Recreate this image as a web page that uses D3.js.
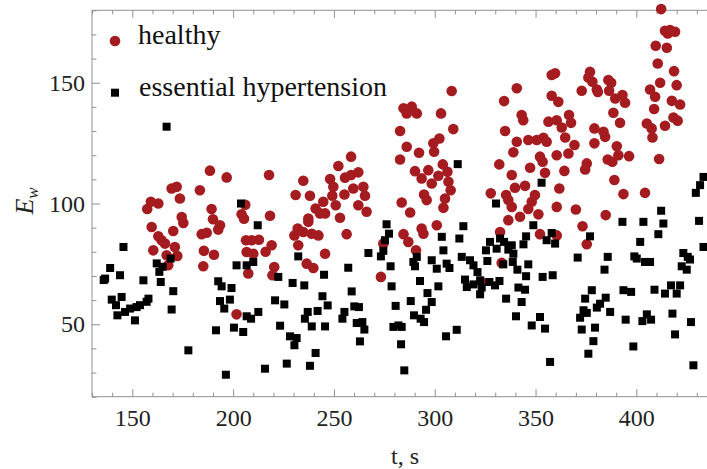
<!DOCTYPE html>
<html>
<head>
<meta charset="utf-8">
<script src="https://cdn.jsdelivr.net/npm/d3@7"></script>
<style>
  html, body { margin: 0; padding: 0; background: #fff; }
  svg { display: block; font-family: "Liberation Serif", "Times New Roman", serif; }
</style>
</head>
<body>
<div id="chart"></div>
<script>
// E_w vs t scatter: healthy vs essential hypertension

// --- data (t in s, E_w) ---
const healthy = [
  [157.4, 97.7], [159.2, 100.7], [162.9, 100.0], [169.5, 106.2], [172.0, 106.9], [173.6, 102.1],
  [183.5, 105.5], [188.5, 113.6], [196.8, 110.8], [189.3, 97.7], [174.5, 94.4], [175.3, 91.9],
  [190.0, 93.5], [193.5, 91.0], [192.6, 89.2], [204.2, 95.5], [205.4, 93.7], [159.6, 90.3],
  [162.9, 86.4], [164.5, 84.8], [166.2, 83.4], [170.3, 88.6], [171.1, 82.0], [160.4, 80.6],
  [167.0, 78.6], [167.8, 74.4], [172.3, 78.3], [184.4, 87.3], [186.9, 87.9], [185.5, 80.4],
  [190.5, 78.8], [185.2, 74.0], [206.4, 84.8], [206.7, 79.9], [207.5, 71.0], [201.7, 54.1],
  [206.0, 99.5], [217.8, 111.8], [234.8, 109.4], [231.0, 103.5], [238.1, 103.2], [252.2, 115.5],
  [258.5, 119.4], [248.1, 110.1], [255.5, 110.7], [258.5, 111.8], [262.1, 112.9], [249.7, 106.9],
  [249.2, 103.2], [255.2, 103.7], [259.6, 106.2], [264.6, 106.9], [265.4, 103.2], [244.7, 100.7],
  [240.9, 97.9], [250.9, 99.3], [262.1, 99.3], [266.2, 96.6], [243.1, 95.9], [245.6, 95.9],
  [253.0, 94.1], [237.3, 93.8], [218.3, 94.9], [209.2, 84.8], [212.8, 85.0], [210.0, 79.2],
  [216.1, 80.0], [219.1, 82.7], [220.4, 73.7], [219.5, 70.3], [230.4, 86.8], [232.0, 89.6],
  [234.8, 88.2], [237.3, 92.4], [239.0, 87.5], [242.3, 86.8], [232.3, 82.7], [236.5, 75.1],
  [239.8, 73.3], [245.6, 79.2], [256.3, 87.3], [273.3, 69.6], [274.5, 83.4],
  [284.5, 139.4], [286.1, 137.3], [288.6, 140.1], [291.1, 137.3], [308.4, 146.6], [303.1, 137.3],
  [282.8, 130.0], [309.2, 130.8], [286.1, 123.5], [292.2, 121.0], [299.3, 124.9], [302.3, 126.9],
  [299.7, 121.4], [282.8, 118.2], [290.2, 113.4], [296.8, 113.8], [293.5, 110.4], [298.5, 108.3],
  [301.8, 111.5], [304.0, 116.2], [306.3, 113.1], [306.8, 109.0], [307.9, 105.5], [294.7, 103.7],
  [296.0, 101.4], [305.1, 102.1], [304.3, 98.2], [283.6, 100.4], [287.8, 96.3], [284.5, 87.3],
  [286.9, 84.1], [290.7, 80.6], [293.5, 89.6], [294.4, 87.5], [301.0, 91.0],
  [340.7, 147.7], [334.4, 142.4], [358.0, 153.2], [359.7, 153.9], [358.0, 144.6], [361.3, 142.1],
  [343.1, 136.6], [343.9, 134.5], [356.4, 133.9], [360.5, 134.5], [334.9, 130.0], [340.7, 125.6],
  [346.4, 126.3], [350.6, 126.3], [353.9, 127.2], [355.5, 125.6], [339.0, 121.2], [352.2, 119.4],
  [353.5, 117.3], [360.5, 120.0], [332.0, 116.2], [347.3, 114.8], [338.2, 111.8], [354.7, 112.7],
  [339.8, 106.5], [344.8, 107.3], [327.8, 104.2], [335.4, 103.5], [336.5, 101.4], [338.2, 98.6],
  [349.7, 103.5], [348.1, 100.7], [346.4, 97.7], [351.4, 95.5], [342.3, 94.5], [336.5, 93.1],
  [360.5, 98.6], [361.8, 106.2], [332.4, 88.2], [352.2, 87.3], [333.2, 75.4], [323.3, 67.5],
  [360.5, 86.8],
  [412.3, 180.5], [414.2, 171.5], [416.7, 171.8], [419.2, 171.1], [415.6, 170.4], [409.6, 165.3],
  [415.1, 164.5], [410.6, 158.0], [418.7, 154.8], [411.8, 150.0], [420.0, 149.0], [406.8, 147.2],
  [409.3, 144.2], [417.6, 142.5], [421.7, 141.0], [408.8, 139.1], [405.2, 133.1], [407.6, 131.1],
  [408.0, 127.3], [414.2, 132.2], [418.4, 135.6], [420.5, 134.3], [411.3, 118.4], [404.3, 104.4],
  [377.0, 154.5], [376.2, 152.2], [378.2, 150.4], [380.4, 147.2], [380.9, 146.2], [372.9, 146.7],
  [386.1, 151.1], [387.5, 150.0], [386.5, 146.7], [389.5, 143.5], [393.1, 144.9], [394.4, 141.7],
  [388.6, 137.6], [391.9, 133.4], [363.0, 131.5], [366.6, 136.6], [367.6, 133.4], [364.7, 127.3],
  [369.3, 124.2], [366.3, 120.7], [379.2, 131.1], [383.7, 129.7], [384.5, 127.6], [379.2, 124.9],
  [390.3, 123.7], [391.1, 120.0], [385.8, 118.2], [388.1, 117.3], [396.4, 119.6], [364.3, 113.5],
  [375.4, 116.6], [374.6, 114.1], [389.1, 109.7], [393.6, 103.9], [370.0, 97.5], [384.8, 95.2],
  [373.3, 90.6], [375.4, 83.1]
];

const hypertension = [
  [167.0, 131.8], [145.6, 82.0], [136.5, 68.9], [135.8, 68.3], [139.0, 73.3], [143.9, 70.3],
  [139.8, 60.2], [141.9, 57.9], [144.7, 61.3], [142.6, 53.7], [146.4, 55.1], [148.9, 56.5],
  [151.3, 51.6], [152.1, 57.1], [153.8, 57.9], [157.1, 59.3], [158.0, 60.6], [155.5, 68.2],
  [162.1, 75.2], [163.4, 71.7], [165.0, 73.8], [164.1, 67.5], [169.0, 77.2], [170.3, 63.7],
  [169.5, 56.1], [177.8, 39.2], [192.6, 67.8], [194.3, 65.7], [199.2, 65.0], [193.5, 59.6],
  [195.6, 56.5], [198.4, 60.2], [191.5, 47.5], [196.4, 29.1], [200.4, 48.6], [205.0, 46.8],
  [206.7, 53.3], [201.7, 74.4], [206.7, 74.4], [203.9, 100.0],
  [212.2, 91.0], [210.0, 75.8], [222.4, 69.6], [229.5, 67.1], [235.3, 66.1], [245.1, 70.5],
  [232.3, 78.1], [257.1, 73.4], [220.8, 59.9], [225.4, 58.2], [244.3, 61.6], [246.9, 57.8],
  [258.8, 63.6], [212.5, 55.1], [208.9, 52.3], [237.0, 55.1], [241.9, 55.5], [235.6, 52.3],
  [239.0, 49.1], [245.6, 49.1], [255.2, 55.1], [254.2, 52.3], [260.1, 57.4], [262.4, 57.1],
  [261.3, 50.5], [264.1, 50.9], [265.1, 47.8], [223.3, 49.4], [228.2, 45.0], [231.5, 44.3],
  [230.4, 41.3], [262.9, 42.9], [240.9, 38.1], [215.8, 31.6], [226.6, 33.7], [238.1, 32.8],
  [267.1, 79.5], [276.1, 91.4], [277.3, 87.5], [275.3, 84.8], [274.5, 80.4], [273.3, 78.1],
  [278.1, 74.0], [278.6, 65.7], [280.6, 57.6], [279.5, 48.9], [282.0, 49.5], [283.6, 48.9],
  [283.3, 41.7], [284.9, 30.9],
  [314.2, 90.6], [303.5, 86.2], [312.2, 85.5], [304.3, 80.6], [289.4, 75.8], [291.1, 77.9],
  [290.2, 74.0], [298.5, 76.5], [301.0, 73.0], [305.9, 75.1], [307.3, 73.3], [313.4, 77.9],
  [317.5, 76.5], [319.2, 74.4], [321.2, 71.6], [292.7, 67.9], [301.8, 65.7], [315.0, 68.5],
  [315.9, 65.4], [319.2, 66.5], [322.5, 68.2], [323.3, 65.2], [327.1, 67.5], [329.9, 66.1],
  [332.1, 67.9], [322.5, 62.4], [325.4, 80.6], [327.4, 84.1], [330.7, 81.3], [332.4, 85.5],
  [334.4, 84.1], [336.5, 80.9], [338.2, 82.7], [339.0, 79.2], [326.1, 76.2], [334.0, 74.8],
  [338.7, 75.8], [341.0, 72.6], [344.0, 83.1], [345.3, 86.4], [348.9, 91.0], [346.4, 74.8],
  [345.3, 69.9], [341.5, 65.2], [344.8, 64.3], [353.5, 69.6], [358.5, 70.3], [355.5, 84.8],
  [358.0, 87.8], [359.7, 83.4], [288.1, 59.6], [289.7, 53.7], [293.0, 52.3], [294.7, 50.9],
  [296.4, 62.9], [298.5, 59.2], [295.7, 56.0], [305.6, 45.0], [310.9, 47.7], [335.4, 60.6],
  [343.1, 59.2], [340.3, 53.3], [348.1, 49.5], [352.2, 53.0], [354.7, 48.2], [357.2, 34.4],
  [311.4, 116.3], [353.0, 108.6], [330.4, 100.0],
  [433.3, 111.0], [431.6, 107.6], [429.5, 104.4], [412.3, 97.0], [393.1, 92.4], [403.5, 92.4],
  [413.4, 91.7], [431.1, 92.8], [433.3, 82.0], [377.0, 86.4], [410.9, 87.3], [401.9, 84.1],
  [370.9, 77.6], [385.8, 77.9], [384.2, 72.6], [399.0, 78.1], [400.2, 77.2], [404.3, 75.8],
  [406.8, 75.8], [423.3, 79.5], [425.5, 77.9], [426.6, 76.8], [422.5, 74.0], [425.0, 72.6],
  [377.9, 64.1], [374.6, 60.6], [384.8, 61.0], [382.0, 58.5], [380.4, 56.9], [387.0, 55.1],
  [373.8, 55.8], [375.4, 54.7], [372.1, 52.7], [372.9, 47.8], [379.5, 48.6], [378.7, 43.0],
  [376.2, 37.8], [393.6, 64.1], [397.4, 63.4], [394.7, 51.9], [398.5, 40.8], [409.0, 64.3],
  [414.2, 62.7], [417.2, 66.1], [420.0, 62.7], [421.7, 66.1], [405.2, 54.1], [403.0, 51.3],
  [407.3, 51.9], [417.9, 54.4], [419.2, 45.8], [427.1, 50.9], [428.3, 33.0]
];

const xMajor = [150, 200, 250, 300, 350, 400];
const yMajor = [50, 100, 150];
const legendLabels = ['healthy', 'essential hypertension'];

// --- layout ---
const W = 707, H = 469;
const frame = {left: 92, top: 10.3, right: 717, bottom: 396.7};
const red = '#a51c20';
const frameColor = '#8f8f8f';

const svg = d3.select('#chart').append('svg')
  .attr('width', W).attr('height', H);

const x = d3.scaleLinear().domain([130, 440]).range([frame.left, frame.right]);
const y = d3.scaleLinear().domain([20, 180]).range([frame.bottom, frame.top]);

const xMinor = d3.range(130, 441, 10).filter(v => !xMajor.includes(v));
const yMinor = d3.range(20, 181, 10).filter(v => !yMajor.includes(v));

function styleAxis(g) {
  g.select('.domain').remove();
  g.selectAll('.tick line').attr('stroke', frameColor);
  g.selectAll('.tick text')
    .attr('fill', '#222')
    .attr('font-size', 24)
    .attr('font-family', '"Liberation Serif", "Times New Roman", serif');
}

// bottom axis: minor + major with labels
svg.append('g').attr('transform', `translate(0,${frame.bottom})`)
  .call(d3.axisBottom(x).tickValues(xMinor).tickSize(-4).tickFormat(''))
  .call(styleAxis);
svg.append('g').attr('transform', `translate(0,${frame.bottom})`)
  .call(d3.axisBottom(x).tickValues(xMajor).tickSize(-7.5).tickPadding(12).tickFormat(d3.format('d')))
  .call(styleAxis);

// top axis: ticks only
svg.append('g').attr('transform', `translate(0,${frame.top})`)
  .call(d3.axisTop(x).tickValues(xMinor).tickSize(-4).tickFormat(''))
  .call(styleAxis);
svg.append('g').attr('transform', `translate(0,${frame.top})`)
  .call(d3.axisTop(x).tickValues(xMajor).tickSize(-7.5).tickFormat(''))
  .call(styleAxis);

// left axis
svg.append('g').attr('transform', `translate(${frame.left},0)`)
  .call(d3.axisLeft(y).tickValues(yMinor).tickSize(-4.5).tickFormat(''))
  .call(styleAxis);
svg.append('g').attr('transform', `translate(${frame.left},0)`)
  .call(d3.axisLeft(y).tickValues(yMajor).tickSize(-8).tickPadding(7).tickFormat(d3.format('d')))
  .call(styleAxis);

// frame
svg.append('rect')
  .attr('x', frame.left).attr('y', frame.top)
  .attr('width', frame.right - frame.left).attr('height', frame.bottom - frame.top)
  .attr('fill', 'none').attr('stroke', frameColor).attr('stroke-width', 1);

// points (red first, squares on top)
const plot = svg.append('g');
plot.selectAll('circle.h')
  .data(healthy).enter().append('circle')
  .attr('class', 'h')
  .attr('cx', d => x(d[0])).attr('cy', d => y(d[1]))
  .attr('r', 5.3).attr('fill', red);

const sq = 8;
plot.selectAll('rect.e')
  .data(hypertension).enter().append('rect')
  .attr('class', 'e')
  .attr('x', d => x(d[0]) - sq / 2).attr('y', d => y(d[1]) - sq / 2)
  .attr('width', sq).attr('height', sq)
  .attr('fill', '#000');

// legend
const leg = svg.append('g').attr('font-size', 28).attr('fill', '#111');
leg.append('circle').attr('cx', 115).attr('cy', 41).attr('r', 5.3).attr('fill', red);
leg.append('text').attr('x', 138).attr('y', 44).text(legendLabels[0]);
leg.append('rect').attr('x', 115 - sq / 2).attr('y', 92.7 - sq / 2)
  .attr('width', sq).attr('height', sq).attr('fill', '#000');
leg.append('text').attr('x', 139).attr('y', 96).text(legendLabels[1]);

// axis labels
svg.append('text')
  .attr('x', 405).attr('y', 464)
  .attr('text-anchor', 'middle').attr('font-size', 24).attr('fill', '#222')
  .text('t, s');

const yl = svg.append('text')
  .attr('transform', 'translate(33,201) rotate(-90)')
  .attr('text-anchor', 'middle').attr('font-size', 26).attr('fill', '#222')
  .attr('font-style', 'italic');
yl.append('tspan').text('E');
yl.append('tspan').attr('font-size', 17).attr('dy', 5).text('w');
</script>
</body>
</html>
